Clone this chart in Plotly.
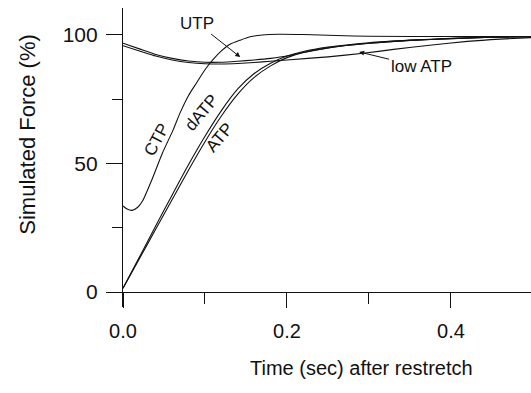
import plotly.graph_objects as go

# ---------------- data ----------------
t_atp = [0.0, 0.02, 0.04, 0.06, 0.08, 0.10, 0.12, 0.14, 0.16, 0.18, 0.20, 0.22, 0.25, 0.30, 0.35, 0.40, 0.45, 0.50]
f_atp = [1.5, 13.0, 24.5, 36.0, 47.5, 58.5, 68.5, 77.0, 83.5, 88.0, 91.2, 93.2, 95.0, 96.8, 97.9, 98.6, 99.1, 99.4]

t_datp = [0.0, 0.02, 0.04, 0.06, 0.08, 0.10, 0.12, 0.14, 0.16, 0.18, 0.20, 0.22, 0.25, 0.30, 0.35, 0.40, 0.45, 0.50]
f_datp = [1.5, 13.6, 25.8, 37.8, 49.6, 60.6, 70.6, 79.0, 85.0, 89.0, 91.8, 93.6, 95.3, 97.0, 98.0, 98.7, 99.1, 99.4]

t_ctp = [0.0, 0.005, 0.011, 0.018, 0.024, 0.035, 0.048, 0.061, 0.070, 0.080, 0.090,
         0.100, 0.110, 0.120, 0.130, 0.143, 0.155, 0.170, 0.190, 0.220, 0.260, 0.300, 0.400, 0.500]
f_ctp = [33.5, 32.3, 31.8, 33.0, 35.5, 43.5, 54.0, 63.0, 70.0, 76.5, 81.5,
         86.5, 90.5, 93.8, 96.3, 98.0, 99.3, 100.0, 100.3, 100.2, 99.8, 99.5, 99.4, 99.4]

t_utp = [0.0, 0.02, 0.04, 0.06, 0.08, 0.10, 0.12, 0.14, 0.16, 0.18, 0.20, 0.22, 0.25, 0.30, 0.35, 0.40, 0.45, 0.50]
f_utp = [96.8, 94.6, 92.4, 90.9, 89.9, 89.4, 89.4, 89.8, 90.3, 90.9, 91.8, 93.2, 95.0, 96.8, 97.9, 98.6, 99.1, 99.4]

t_low = [0.0, 0.02, 0.04, 0.06, 0.08, 0.10, 0.12, 0.14, 0.16, 0.18, 0.20, 0.25, 0.293, 0.33, 0.374, 0.42, 0.46, 0.50]
f_low = [95.8, 93.8, 91.8, 90.3, 89.3, 88.8, 88.7, 88.9, 89.3, 89.8, 90.3, 91.5, 92.9, 94.4, 96.0, 97.5, 98.4, 99.0]

x_ticks = [0.0, 0.2, 0.4]
x_tick_labels = ["0.0", "0.2", "0.4"]
y_ticks = [0, 50, 100]
y_tick_labels = ["0", "50", "100"]

FONT = "Liberation Sans, Arial, sans-serif"
INK = "#111111"

fig = go.Figure()
for t, f, name in [(t_atp, f_atp, "ATP"), (t_datp, f_datp, "dATP"), (t_ctp, f_ctp, "CTP"),
                   (t_utp, f_utp, "UTP"), (t_low, f_low, "low ATP")]:
    fig.add_trace(go.Scatter(x=t, y=f, mode="lines", name=name,
                             line=dict(color=INK, width=1.1, shape="spline", smoothing=0.6)))

y_lo, y_hi = -5.8, 110.5

fig.update_layout(
    width=531, height=393,
    margin=dict(l=123, r=0, t=8, b=86),
    paper_bgcolor="white", plot_bgcolor="white",
    showlegend=False,
    font=dict(family=FONT, color=INK),
    xaxis=dict(range=[0, 0.4976], showgrid=False, zeroline=False, showline=True, linecolor=INK, linewidth=1.2,
               anchor="free", position=(0 - y_lo) / (y_hi - y_lo),
               tickmode="array", tickvals=x_ticks, ticktext=x_tick_labels,
               ticks="outside", ticklen=15, tickwidth=1, tickcolor=INK,
               tickfont=dict(size=20, family=FONT, color=INK), ticklabelstandoff=6,
               minor=dict(tickvals=[0.1, 0.3], ticks="outside", ticklen=11, tickwidth=1, tickcolor=INK)),
    yaxis=dict(range=[y_lo, y_hi], showgrid=False, zeroline=False, showline=True, linecolor=INK, linewidth=1.2,
               tickmode="array", tickvals=y_ticks, ticktext=y_tick_labels,
               ticks="outside", ticklen=16, tickwidth=1, tickcolor=INK,
               tickfont=dict(size=21, family=FONT, color=INK), ticklabelstandoff=4,
               minor=dict(tickvals=[25, 75], ticks="outside", ticklen=10, tickwidth=1, tickcolor=INK)),
)

ann_font = dict(size=17, family=FONT, color=INK)
# axis titles
fig.add_annotation(text="Time (sec) after restretch", xref="paper", yref="paper", x=0.585, y=-0.205,
                   xanchor="center", yanchor="middle",
                   showarrow=False, font=dict(size=20, family=FONT, color=INK))
fig.add_annotation(text="Simulated Force (%)", xref="paper", yref="paper", x=-0.234, y=0.578,
                   xanchor="center", yanchor="middle",
                   showarrow=False, textangle=-90, font=dict(size=22, family=FONT, color=INK))
# curve labels
fig.add_annotation(text="UTP", x=0.143, y=91.4, ax=-43, ay=-34, showarrow=True, arrowhead=2, arrowsize=1,
                   arrowwidth=1, arrowcolor=INK, font=ann_font)
fig.add_annotation(text="low ATP", x=0.288, y=93.4, ax=62, ay=15, showarrow=True, arrowhead=2, arrowsize=1,
                   arrowwidth=1, arrowcolor=INK, font=ann_font)
fig.add_annotation(text="CTP", x=0.0415, y=59.2, showarrow=False, textangle=-62, font=ann_font)
fig.add_annotation(text="dATP", x=0.096, y=69.8, showarrow=False, textangle=-50, font=ann_font)
fig.add_annotation(text="ATP", x=0.118, y=60.0, showarrow=False, textangle=-50, font=ann_font)

fig.write_html("out.html")
